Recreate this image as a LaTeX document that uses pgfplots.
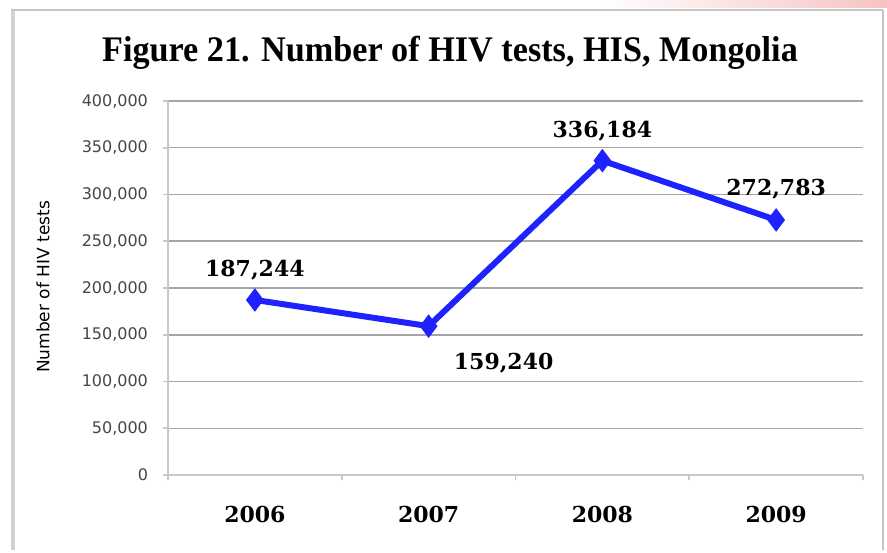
\documentclass[border=0pt]{standalone}
\usepackage{pgfplots}
\pgfplotsset{compat=1.18}
\usepackage{fontspec}
\setmainfont{DejaVu Serif}
\newfontfamily\tickfont{DejaVu Sans}
\newfontfamily\titlefont{Liberation Serif}
\definecolor{lineblue}{RGB}{30,34,255}
\definecolor{gridgray}{RGB}{165,165,165}
\definecolor{axisgray}{RGB}{200,200,200}
\definecolor{ticktext}{RGB}{70,70,70}

\begin{document}
\begin{tikzpicture}[x=1pt,y=1pt]
% page and frame (1px = 0.5pt)
\fill[white] (0,0) rectangle (443.5,275);
\shade[left color=white, right color={rgb,255:red,245;green,195;blue,195}] (300,271) rectangle (443.5,275);
\draw[gray!35, line width=2pt] (6.5,0) -- (6.5,270);
\draw[gray!45, line width=1.2pt] (5.5,270) -- (441.5,270);
\draw[gray!45, line width=0.6pt] (441.5,270) -- (441.5,0);

\node[font=\titlefont\bfseries\fontsize{18}{20}\selectfont, xscale=0.95] at (225,248.5)
  {Figure 21. Number of HIV tests, HIS, Mongolia};
\node[rotate=90, font=\tickfont\fontsize{8.5}{10}\selectfont, text=black] at (21.5,131.5)
  {Number of HIV tests};

\begin{axis}[
  at={(84pt,37.5pt)}, anchor=south west,
  scale only axis, width=347.5pt, height=187pt,
  xmin=-0.5, xmax=3.5, ymin=0, ymax=400000,
  axis lines=left, axis line style={-, axisgray, line width=1.2pt},
  ytick={0,50000,100000,150000,200000,250000,300000,350000,400000},
  scaled y ticks=false,
  /pgf/number format/fixed, /pgf/number format/1000 sep={,},
  /pgf/number format/assume math mode=true,
  yticklabel style={font=\tickfont\fontsize{8}{9}\selectfont, text=ticktext, xshift=-4pt},
  ymajorgrids, grid style={gridgray, line width=0.75pt},
  tick align=outside, major tick length=2.5pt,
  tick style={axisgray, line width=0.8pt},
  xtick={-0.5,0.5,1.5,2.5,3.5}, xticklabels={},
  extra x ticks={0,1,2,3},
  extra x tick labels={2006,2007,2008,2009},
  extra x tick style={major tick length=0pt,
    xticklabel style={font=\bfseries\fontsize{11}{13}\selectfont, yshift=-12pt}},
  clip=false,
]
\addplot[lineblue, line width=3pt, mark=diamond*, mark size=5.5pt,
  mark options={fill=lineblue, draw=lineblue, line width=0.5pt}]
  coordinates {(0,187244) (1,159240) (2,336184) (3,272783)};
\begin{scope}[font=\bfseries\fontsize{11}{13}\selectfont]
\node at (axis cs:0,187244) [yshift=15pt] {187,244};
\node at (axis cs:1,159240) [xshift=37.5pt, yshift=-18.5pt] {159,240};
\node at (axis cs:2,336184) [yshift=15pt] {336,184};
\node at (axis cs:3,272783) [yshift=15.5pt] {272,783};
\end{scope}
\end{axis}
\end{tikzpicture}
\end{document}
